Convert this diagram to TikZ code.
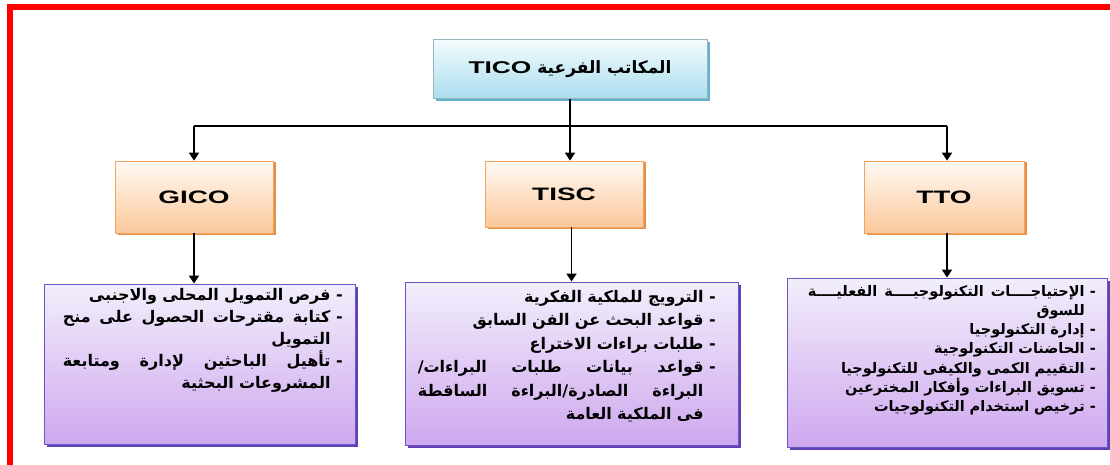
\documentclass[tikz,border=0pt]{standalone}
\usepackage{fontspec}
\setmainfont{Liberation Sans}
\newfontfamily\arabicfont[Script=Arabic,BoldFont={DejaVu Sans Bold}]{DejaVu Sans}
\newfontfamily\latinfont[FakeStretch=1.55,BoldFont={Liberation Sans Bold}]{Liberation Sans}
\TeXXeTstate=1
\usetikzlibrary{arrows.meta,shadows,calc}

\definecolor{ticoTop}{HTML}{F4FCFE}
\definecolor{ticoBot}{HTML}{A9DDEE}
\definecolor{ticoLine}{HTML}{9DB3BC}
\definecolor{ticoSh}{HTML}{5FB2D2}
\definecolor{orTop}{HTML}{FFFAF4}
\definecolor{orBot}{HTML}{FBC79A}
\definecolor{orLine}{HTML}{F2A45E}
\definecolor{orSh}{HTML}{E58E45}
\definecolor{puTop}{HTML}{F2EEFB}
\definecolor{puBot}{HTML}{CFA8EF}
\definecolor{puLine}{HTML}{6C55C4}
\definecolor{puSh}{HTML}{5E42B5}

\newlength\dashw
\newcommand\dsh{-\kern0.35em}
\newcommand\js{\hskip\fontdimen2\font plus 1fil\relax}
\newcommand\lnJ[1]{\par\hbox to\linewidth{\beginR\dsh #1\endR}}
\newcommand\lnR[1]{\par\hbox to\linewidth{\hfill\beginR\dsh #1\endR}}
\newcommand\lnJc[1]{\par\hbox to\linewidth{\beginR #1\endR\kern\dashw}}
\newcommand\lnRc[1]{\par\hbox to\linewidth{\hfill\beginR #1\endR\kern\dashw}}

\tikzset{
  topbox/.style={draw=ticoLine, line width=0.8pt, top color=ticoTop, bottom color=ticoBot,
    minimum width=274pt, minimum height=59pt, inner sep=0pt,
    drop shadow={shadow xshift=2.5pt, shadow yshift=-2.5pt, fill=ticoSh, opacity=1}},
  midbox/.style={draw=orLine, line width=0.8pt, top color=orTop, bottom color=orBot,
    minimum width=158pt, inner sep=0pt, font=\latinfont\bfseries\fontsize{18}{20}\selectfont,
    drop shadow={shadow xshift=2.5pt, shadow yshift=-1.5pt, fill=orSh, opacity=1}},
  listbox/.style={draw=puLine, line width=1pt, top color=puTop, bottom color=puBot,
    inner sep=0pt,
    drop shadow={shadow xshift=2.5pt, shadow yshift=-3pt, fill=puSh, opacity=1}},
  listtext/.style={inner sep=0pt, anchor=north east,
    font=\arabicfont\bfseries\fontsize{16}{23.5}\selectfont},
  arr/.style={draw=black, line width=1.8pt, -{Triangle[width=10pt,length=8pt]}},
  bus/.style={draw=black, line width=1.3pt},
}

\begin{document}
\begin{tikzpicture}[x=1pt,y=-1pt]
\useasboundingbox (0,0) rectangle (1110,465);
\fill[white] (0,0) rectangle (1110,465);
\draw[red, line width=6pt] (9.5,465) |- (1110,7.5);

% top box
\node[topbox] (tico) at (570,69)
  {\arabicfont\bfseries\fontsize{17}{20}\selectfont\beginR المكاتب الفرعية \beginL{\latinfont\bfseries\fontsize{17}{20}\selectfont TICO}\endL\endR};

% middle boxes
\node[midbox, minimum height=72pt] (gico) at (194,197) {GICO};
\node[midbox, minimum height=66pt] (tisc) at (564,194) {TISC};
\node[midbox, minimum height=72pt, minimum width=160pt] (tto) at (944,197) {TTO};

% list boxes
\node[listbox, minimum width=311pt, minimum height=160pt] (gl) at (199.5,364) {};
\node[listbox, minimum width=333pt, minimum height=163pt] (tl) at (571.5,363.5) {};
\node[listbox, minimum width=320pt, minimum height=169pt] (ttl) at (947,362.5) {};

% list texts
\node[listtext, text width=280pt, font=\arabicfont\bfseries\fontsize{16}{22}\selectfont] (glt) at (343,278) {\settowidth\dashw{\dsh}%
  \lnR{فرص التمويل المحلى والاجنبى}%
  \lnJ{كتابة\js مقترحات\js الحصول\js على\js منح}%
  \lnRc{التمويل}%
  \lnJ{تأهيل\js الباحثين\js لإدارة\js ومتابعة}%
  \lnRc{المشروعات البحثية}\par};

\node[listtext, text width=298pt] (tlt) at (716,278.5) {\settowidth\dashw{\dsh}%
  \lnR{الترويج للملكية الفكرية}%
  \lnR{قواعد البحث عن الفن السابق}%
  \lnR{طلبات براءات الاختراع}%
  \lnJ{قواعد\js بيانات\js طلبات\js البراءات\kern0pt/}%
  \lnJc{البراءة\js الصادرة\kern0pt/\kern0pt البراءة\js الساقطة}%
  \lnRc{فى الملكية العامة}\par};

\node[listtext, text width=288pt, font=\arabicfont\bfseries\fontsize{14.5}{19.3}\selectfont] (ttlt) at (1096,276.5) {\settowidth\dashw{\dsh}%
  \lnJ{الإحتياجــــات\js التكنولوجيــــة\js الفعليــــة}%
  \lnRc{للسوق}%
  \lnR{إدارة التكنولوجيا}%
  \lnR{الحاضنات التكنولوجية}%
  \lnR{التقييم الكمى والكيفى للتكنولوجيا}%
  \lnR{تسويق البراءات وأفكار المخترعين}%
  \lnR{ترخيص استخدام التكنولوجيات}\par};

% connectors
\coordinate (bus) at ($(tico.south)+(0,27)$);
\draw[bus] (bus -| gico.north) -- (bus -| ttl.north);
\draw[arr] (tico.south) -- (tico.south |- tisc.north);
\draw[arr] (bus -| gico.north) -- (gico.north);
\draw[arr] (bus -| ttl.north) -- (ttl.north |- tto.north);
\draw[arr] (gico.south) -- (gico.south |- gl.north);
\draw[arr] (tisc.south -| tl.north) -- (tl.north);
\draw[arr] (tto.south -| ttl.north) -- (ttl.north);
\end{tikzpicture}
\end{document}
